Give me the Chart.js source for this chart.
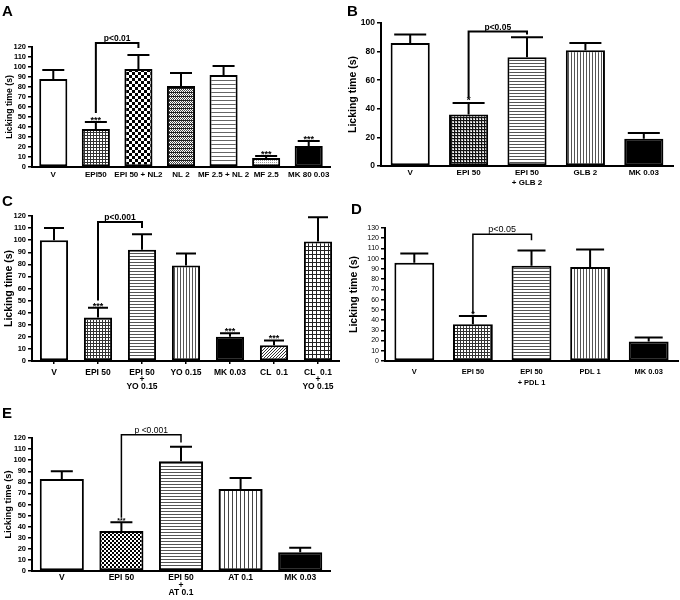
<!DOCTYPE html>
<html>
<head>
<meta charset="utf-8">
<script src="https://cdn.jsdelivr.net/npm/chart.js@4.4.1/dist/chart.umd.min.js"></script>
<style>
body { margin: 0; background: #fff; width: 680px; height: 600px; position: relative; overflow: hidden; }
.panel { position: absolute; }
.letter { position: absolute; font: bold 15px "Liberation Sans", Arial, sans-serif; line-height: 1; color: #000; }
</style>
</head>
<body>
<div class="panel" style="left:0;top:0"><canvas id="chartA" width="340" height="195"></canvas></div>
<div class="panel" style="left:340px;top:0"><canvas id="chartB" width="340" height="195"></canvas></div>
<div class="panel" style="left:0;top:190px"><canvas id="chartC" width="340" height="215"></canvas></div>
<div class="panel" style="left:340px;top:190px"><canvas id="chartD" width="340" height="215"></canvas></div>
<div class="panel" style="left:0;top:400px"><canvas id="chartE" width="340" height="200"></canvas></div>
<div class="letter" style="left:2px;top:3px">A</div>
<div class="letter" style="left:347px;top:3px">B</div>
<div class="letter" style="left:2px;top:193px">C</div>
<div class="letter" style="left:351px;top:201px">D</div>
<div class="letter" style="left:2px;top:405px">E</div>
<script>
// panel A
const aLabels = ['V', 'EPI50', 'EPI 50 + NL2', 'NL 2', 'MF 2.5 + NL 2', 'MF 2.5', 'MK 80 0.03'];
const aMeans = [88, 38, 98, 81, 92, 9, 21];
const aErrors = [97, 45, 112, 94, 101, 11, 26];
const aStars = ['', '***', '', '', '', '***', '***'];
const aBracket = [1, 2, 54, 124, 119, 'p<0.01'];

// panel B
const bLabels = ['V', 'EPI 50', ['EPI 50', '+ GLB 2'], 'GLB 2', 'MK 0.03'];
const bMeans = [86, 36, 76, 81, 19];
const bErrors = [92, 44, 90, 86, 23];
const bStars = ['', '*', '', '', ''];
const bBracket = [1, 2, 48, 94, 92, 'p<0.05'];

// panel C
const cLabels = ['V', 'EPI 50', ['EPI 50', '+', 'YO 0.15'], 'YO 0.15', 'MK 0.03', 'CL  0.1', ['CL  0.1', '+', 'YO 0.15']];
const cMeans = [100, 36, 92, 79, 20, 13, 99];
const cErrors = [110, 44, 105, 89, 23, 17, 119];
const cStars = ['', '***', '', '', '***', '***', ''];
const cBracket = [1, 2, 50, 115, 110, 'p<0.001'];

// panel D
const dLabels = ['V', 'EPI 50', ['EPI 50', '+ PDL 1'], 'PDL 1', 'MK 0.03'];
const dMeans = [96, 36, 93, 92, 19];
const dErrors = [105, 44, 108, 109, 23];
const dStars = ['', '*', '', '', ''];
const dBracket = [1, 2, 47, 124, 118, 'p<0.05'];

// panel E
const eLabels = ['V', 'EPI 50', ['EPI 50', '+', 'AT 0.1'], 'AT 0.1', 'MK 0.03'];
const eMeans = [83, 36, 99, 74, 17];
const eErrors = [90, 44, 112, 84, 21];
const eStars = ['', '***', '', '', ''];
const eBracket = [1, 2, 48, 123, 116, 'p <0.001'];

const FONT = '"Liberation Sans", Arial, sans-serif';

function tile(w, h, draw) {
    var c = document.createElement('canvas');
    c.width = w; c.height = h;
    var g = c.getContext('2d');
    g.fillStyle = '#fff';
    g.fillRect(0, 0, w, h);
    draw(g);
    return g.createPattern(c, 'repeat');
}

const WHITE = '#fff';
const BLACK = '#000';
const GRID = tile(3, 3, g => { g.fillStyle = '#333'; g.fillRect(0, 0, 3, 1); g.fillRect(0, 0, 1, 3); });
const GRID_BIG = tile(4, 4, g => { g.fillStyle = '#222'; g.fillRect(0, 0, 4, 1); g.fillRect(0, 0, 1, 4); });
const DARK_GRID = tile(3, 3, g => { g.fillStyle = '#111'; g.fillRect(0, 0, 3, 3); g.fillStyle = '#bbb'; g.fillRect(1, 1, 2, 2); g.fillStyle = '#fff'; g.fillRect(2, 2, 1, 1); });
const CHECKER = tile(6, 6, g => { g.fillStyle = '#000'; g.fillRect(0, 0, 3, 3); g.fillRect(3, 3, 3, 3); });
const CHECKER_SM = tile(4, 4, g => { g.fillStyle = '#000'; g.fillRect(0, 0, 2, 2); g.fillRect(2, 2, 2, 2); });
const FINE_CHECK = tile(4, 4, g => {
    g.fillStyle = '#444';
    g.fillRect(0, 0, 1, 1); g.fillRect(2, 0, 1, 1); g.fillRect(1, 1, 1, 1); g.fillRect(3, 1, 1, 1);
    g.fillRect(0, 2, 1, 1); g.fillRect(2, 2, 1, 1); g.fillRect(1, 3, 1, 1); g.fillRect(3, 3, 1, 1);
    g.fillStyle = '#222'; g.fillRect(0, 0, 4, 1);
});
const HLINES = tile(1, 3, g => { g.fillStyle = '#555'; g.fillRect(0, 0, 1, 1); });
const HLINES_WIDE = tile(1, 4, g => { g.fillStyle = '#666'; g.fillRect(0, 0, 1, 1); });
const VLINES = tile(3, 1, g => { g.fillStyle = '#555'; g.fillRect(0, 0, 1, 1); });
const VLINES_WIDE = tile(4, 1, g => { g.fillStyle = '#444'; g.fillRect(0, 0, 1, 1); });
const DOTS = tile(2, 2, g => { g.fillStyle = '#999'; g.fillRect(0, 0, 1, 1); });
const DIAG = tile(3, 3, g => { g.fillStyle = '#333'; g.fillRect(0, 2, 1, 1); g.fillRect(1, 1, 1, 1); g.fillRect(2, 0, 1, 1); });

// error bars, stars and the significance bracket
const annotate = {
    id: 'annotate',
    afterDatasetsDraw(chart, args, o) {
        const ctx = chart.ctx;
        const y = chart.scales.y;
        const bars = chart.getDatasetMeta(0).data;
        ctx.save();
        ctx.strokeStyle = '#000';
        ctx.fillStyle = '#000';
        ctx.lineWidth = 2;
        o.errors.forEach((e, i) => {
            const bx = bars[i].x;
            const y0 = y.getPixelForValue(o.means[i]);
            const y1 = y.getPixelForValue(e);
            ctx.beginPath();
            ctx.moveTo(bx, y0);
            ctx.lineTo(bx, y1);
            ctx.moveTo(bx - o.cap / 2, y1);
            ctx.lineTo(bx + o.cap / 2, y1);
            ctx.stroke();
            if (o.stars[i]) {
                ctx.font = 'bold ' + o.starSize + 'px ' + FONT;
                ctx.textAlign = 'center';
                ctx.textBaseline = 'alphabetic';
                ctx.fillText(o.stars[i], bx, y1 + 1);
            }
        });
        const b = o.bracket;
        const x1 = bars[b[0]].x, x2 = bars[b[1]].x;
        const yTop = y.getPixelForValue(b[3]);
        ctx.lineWidth = o.bracketWidth;
        ctx.beginPath();
        ctx.moveTo(x1, y.getPixelForValue(b[2]));
        ctx.lineTo(x1, yTop);
        ctx.lineTo(x2, yTop);
        ctx.lineTo(x2, y.getPixelForValue(b[4]));
        ctx.stroke();
        ctx.font = o.pFont + ' ' + FONT;
        ctx.textAlign = 'center';
        ctx.fillText(b[5], (x1 + x2) / 2, yTop - 2);
        ctx.restore();
    }
};

function makeChart(id, p) {
    return new Chart(document.getElementById(id), {
        type: 'bar',
        data: {
            labels: p.labels,
            datasets: [{
                data: p.means,
                backgroundColor: p.fills,
                borderColor: '#000',
                borderWidth: 2,
                borderSkipped: false,
                barPercentage: p.barPct,
                categoryPercentage: 1
            }]
        },
        options: {
            responsive: false,
            animation: false,
            layout: { padding: p.pad },
            plugins: {
                legend: { display: false },
                tooltip: { enabled: false },
                annotate: {
                    means: p.means, errors: p.errors, stars: p.stars, bracket: p.bracket,
                    cap: p.cap, starSize: p.starSize, bracketWidth: p.bracketWidth, pFont: p.pFont
                }
            },
            scales: {
                x: {
                    grid: p.xTicks
                        ? { drawOnChartArea: false, drawTicks: true, tickLength: 3, offset: false, color: '#000', lineWidth: 1.5 }
                        : { display: false, drawTicks: false },
                    border: { color: '#000', width: 2 },
                    ticks: { color: '#000', font: p.xFont, padding: p.xPad, maxRotation: 0, autoSkip: false },
                    afterFit: s => { s.height = p.xh; }
                },
                y: {
                    min: 0, max: p.max,
                    ticks: { stepSize: p.step, autoSkip: false, color: '#000', font: p.yFont, padding: 2 },
                    grid: { drawOnChartArea: false, tickLength: 4, color: '#000', lineWidth: 1.5 },
                    border: { color: '#000', width: 2 },
                    title: { display: true, text: 'Licking time (s)', color: '#000', font: p.titleFont, padding: { top: p.titlePad, bottom: 0 } },
                    afterFit: s => { s.width = p.yw; }
                }
            }
        },
        plugins: [annotate]
    });
}

makeChart('chartA', {
    labels: aLabels, means: aMeans, errors: aErrors, stars: aStars, bracket: aBracket,
    fills: [WHITE, GRID, CHECKER, FINE_CHECK, HLINES_WIDE, DOTS, BLACK],
    barPct: 0.66, max: 120, step: 10, yw: 32, xh: 28, pad: { top: 47, right: 10, left: 0, bottom: 0 },
    xFont: { family: FONT, size: 8, weight: 'bold' }, xPad: 3, yFont: { family: FONT, size: 7.5, weight: 'bold' },
    titleFont: { family: FONT, size: 8.7, weight: 'bold' }, titlePad: 4,
    cap: 22, starSize: 9, bracketWidth: 2, pFont: 'bold 8.5px'
});

makeChart('chartB', {
    labels: bLabels, means: bMeans, errors: bErrors, stars: bStars, bracket: bBracket,
    fills: [WHITE, DARK_GRID, HLINES, VLINES, BLACK],
    barPct: 0.67, max: 100, step: 20, yw: 41, xh: 29, pad: { top: 23, right: 7, left: 0, bottom: 0 },
    xFont: { family: FONT, size: 8, weight: 'bold', lineHeight: 1.25 }, xPad: 2, yFont: { family: FONT, size: 8.5, weight: 'bold' },
    titleFont: { family: FONT, size: 10.5, weight: 'bold' }, titlePad: 7,
    cap: 32, starSize: 10, bracketWidth: 2, pFont: 'bold 8.5px'
});

makeChart('chartC', {
    labels: cLabels, means: cMeans, errors: cErrors, stars: cStars, bracket: cBracket,
    fills: [WHITE, GRID, HLINES, VLINES, BLACK, DIAG, GRID_BIG],
    barPct: 0.64, max: 120, step: 10, yw: 32, xh: 44, pad: { top: 26, right: 0, left: 0, bottom: 0 },
    xTicks: true,
    xFont: { family: FONT, size: 8.5, weight: 'bold', lineHeight: 0.85 }, xPad: 5, yFont: { family: FONT, size: 7.5, weight: 'bold' },
    titleFont: { family: FONT, size: 10.5, weight: 'bold' }, titlePad: 3,
    cap: 20, starSize: 9, bracketWidth: 2, pFont: 'bold 8.5px'
});

makeChart('chartD', {
    labels: dLabels, means: dMeans, errors: dErrors, stars: dStars, bracket: dBracket,
    fills: [WHITE, GRID, HLINES, VLINES, BLACK],
    barPct: 0.68, max: 130, step: 10, yw: 45, xh: 44, pad: { top: 38, right: 2, left: 0, bottom: 0 },
    xFont: { family: FONT, size: 7.5, weight: 'bold', lineHeight: 1.4 }, xPad: 6, yFont: { family: FONT, size: 7, weight: 'normal' },
    titleFont: { family: FONT, size: 10.5, weight: 'bold' }, titlePad: 8,
    cap: 28, starSize: 9, bracketWidth: 1.5, pFont: '9px'
});

makeChart('chartE', {
    labels: eLabels, means: eMeans, errors: eErrors, stars: eStars, bracket: eBracket,
    fills: [WHITE, CHECKER_SM, HLINES, VLINES_WIDE, BLACK],
    barPct: 0.74, max: 120, step: 10, yw: 32, xh: 29, pad: { top: 38, right: 10, left: 0, bottom: 0 },
    xFont: { family: FONT, size: 8.5, weight: 'bold', lineHeight: 0.9 }, xPad: 3, yFont: { family: FONT, size: 7.5, weight: 'bold' },
    titleFont: { family: FONT, size: 9.3, weight: 'bold' }, titlePad: 3,
    cap: 22, starSize: 7, bracketWidth: 1.5, pFont: '8.5px'
});
</script>
</body>
</html>
